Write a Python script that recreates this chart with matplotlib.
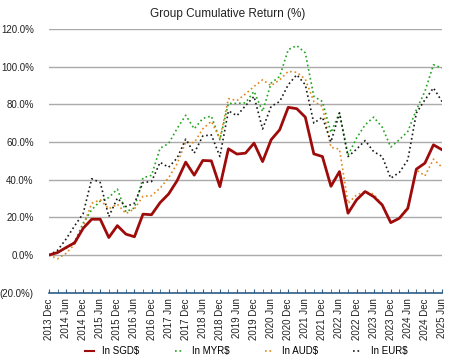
import matplotlib
matplotlib.use("Agg")
import matplotlib.pyplot as plt
from matplotlib.ticker import FuncFormatter, MultipleLocator

plt.rcParams['font.family'] = ['Liberation Sans', 'DejaVu Sans']

# quarterly periods, 2013 Dec .. 2025 Jun
periods = []
for y in range(2013, 2026):
    for m in ['Mar', 'Jun', 'Sep', 'Dec']:
        periods.append(f"{y} {m}")
periods = periods[periods.index('2013 Dec'):periods.index('2025 Jun') + 1]

sgd = [0, 1.3, 4.0, 6.5, 14.2, 19.0, 19.0, 9.3, 15.6, 11.1, 9.7, 21.7, 21.4, 27.8, 32.4, 39.5,
       49.3, 42.4, 50.2, 50.0, 36.3, 56.4, 53.6, 54.1, 59.4, 49.6, 61.2, 66.5, 78.4, 77.7, 73.2,
       53.7, 52.3, 36.5, 44.3, 22.2, 29.3, 33.7, 31.0, 26.6, 17.2, 19.5, 24.8, 45.6, 48.8, 58.5, 55.9]
myr = [0, 1.5, 3.5, 7.0, 17.0, 24.0, 28.7, 30.5, 35.0, 23.0, 25.0, 41.0, 42.3, 56.7, 59.2, 67.2,
       74.2, 67.0, 72.5, 73.8, 61.2, 80.5, 80.5, 80.8, 86.9, 76.2, 91.3, 94.8, 109.0, 111.2, 107.3,
       84.2, 81.5, 65.0, 75.5, 53.0, 62.1, 69.1, 73.2, 67.9, 57.3, 61.2, 65.6, 77.1, 86.9, 101.0, 99.3]
aud = [0, -2.0, 0.9, 5.7, 15.0, 27.5, 29.3, 24.5, 27.0, 22.0, 24.5, 31.2, 31.5, 35.5, 41.0, 48.5,
       60.0, 59.6, 67.0, 71.0, 61.8, 83.0, 82.0, 85.5, 89.5, 93.0, 89.9, 93.0, 97.5, 97.0, 93.4,
       81.5, 78.9, 57.2, 56.2, 27.5, 31.9, 33.7, 32.4, 26.6, 17.2, 19.5, 25.7, 45.2, 42.0, 50.9, 46.6]
eur = [0, 2.5, 8.5, 15.5, 22.0, 40.5, 38.5, 20.4, 30.2, 25.7, 27.5, 38.5, 39.0, 49.2, 46.6, 51.5,
       61.5, 54.1, 63.2, 63.8, 52.3, 76.5, 74.0, 79.3, 84.2, 66.9, 78.9, 81.5, 90.4, 95.7, 90.4,
       70.0, 73.2, 60.0, 75.4, 52.3, 56.2, 60.8, 54.9, 52.3, 40.8, 43.8, 50.5, 75.4, 82.4, 88.7, 81.5]

x = list(range(len(periods)))

fig = plt.figure(figsize=(4.56, 3.63), dpi=100)
ax = fig.add_axes([49 / 456, 1 - 292.7 / 363, (442 - 49) / 456, (292.7 - 29) / 363])

dots = (0, (1.0, 1.7))
ax.plot(x, myr, color='#1fa51f', lw=1.2, linestyle=dots, label='In MYR$', zorder=3)
ax.plot(x, aud, color='#e0881c', lw=1.2, linestyle=dots, label='In AUD$', zorder=3)
ax.plot(x, eur, color='#1a1a1a', lw=1.2, linestyle=dots, label='In EUR$', zorder=3)
ax.plot(x, sgd, color='#9e0b0b', lw=2.0, label='In SGD$', zorder=4)

ax.set_xlim(0, len(periods) - 1)
ax.set_ylim(-20, 120)
ax.yaxis.set_major_locator(MultipleLocator(20))
ax.yaxis.set_major_formatter(FuncFormatter(
    lambda v, p: f"({abs(v):.1f}%)" if v < 0 else f"{v:.1f}%"))
ax.grid(axis='y', color='#aaaaaa', lw=1.0)
ax.set_axisbelow(True)

ax.set_xticks(x[::2])
ax.set_xticklabels(periods[::2], rotation=90, fontsize=7, color='#222222')
ax.set_xticks(x, minor=True)
ax.tick_params(axis='x', which='both', direction='in', length=3, color='#2e5f8a', pad=4)
ax.tick_params(axis='y', length=0, labelsize=7, pad=11, labelcolor='#222222')

for s in ['top', 'right', 'left']:
    ax.spines[s].set_visible(False)
ax.spines['bottom'].set_color('#2e5f8a')
ax.spines['bottom'].set_linewidth(1.2)

fig.text(0.5, 1 - 14 / 363, 'Group Cumulative Return (%)', ha='center', va='center',
         fontsize=8.5, color='#222222')

h, l = ax.get_legend_handles_labels()
order = [3, 0, 1, 2]
leg = fig.legend([h[i] for i in order], [l[i] for i in order], loc='center',
                 bbox_to_anchor=(0.54, 1 - 351 / 363), ncol=4, frameon=False, fontsize=7,
                 handlelength=0.9, columnspacing=3.6, handletextpad=0.9)
leg.get_lines()[0].set_linewidth(1.5)

fig.savefig('out.png', dpi=100)
